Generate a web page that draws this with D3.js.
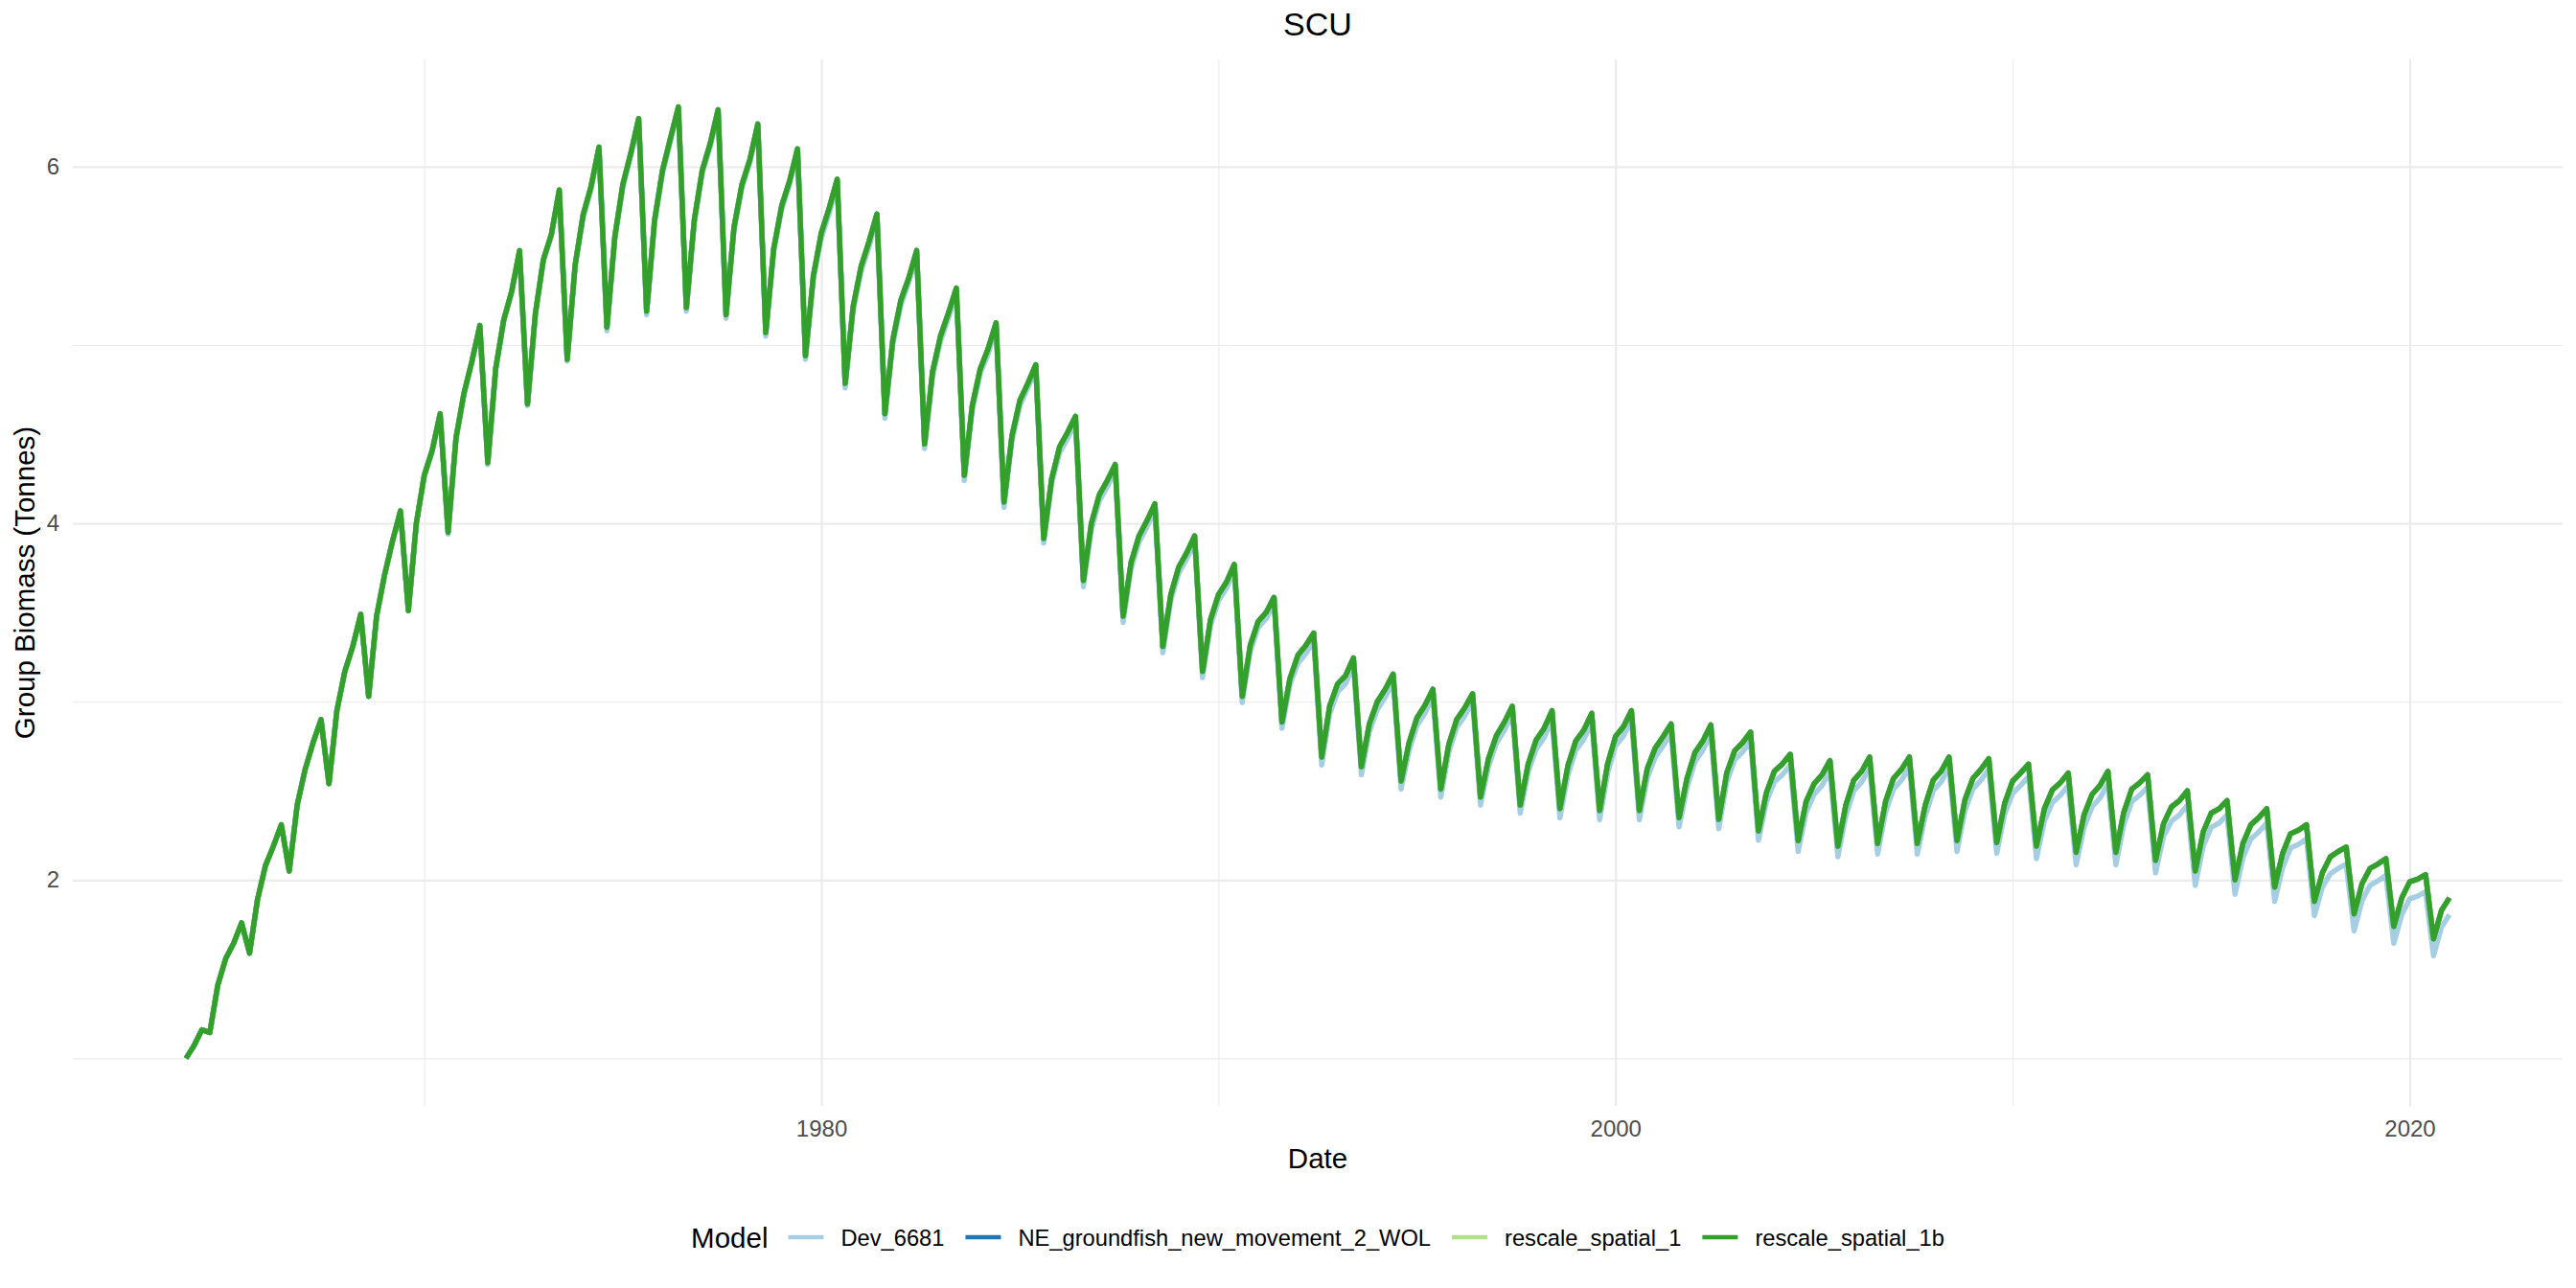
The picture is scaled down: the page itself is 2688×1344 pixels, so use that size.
<!DOCTYPE html>
<html>
<head>
<meta charset="utf-8">
<script src="https://cdn.jsdelivr.net/npm/d3@7"></script>
<style>
  body { margin: 0; background: #ffffff; }
  text { font-family: "Liberation Sans", Arial, Helvetica, sans-serif; }
</style>
</head>
<body>
<svg id="chart" width="2688" height="1344"></svg>
<script>
// ---------------- data ----------------
const chartTitle = "SCU";
const xAxisTitle = "Date";
const yAxisTitle = "Group Biomass (Tonnes)";
const legendTitle = "Model";
const models = ["Dev_6681", "NE_groundfish_new_movement_2_WOL", "rescale_spatial_1", "rescale_spatial_1b"];
const modelColors = ["#A6CEE3", "#1F78B4", "#B2DF8A", "#33A02C"];
const startYear = 1964;      // first output date
const stepsPerYear = 5;      // 73-day output steps
const xTickValues = [1980, 2000, 2020];
const xMinorValues = [1970, 1990, 2010];
const yTickValues = [2, 4, 6];
const yMinorValues = [1, 3, 5];

const biomass_rescale_spatial_1b = [
1.00,1.07,1.16,1.145,1.41,1.56,1.645,1.76,1.59,1.89,
2.08,2.19,2.31,2.05,2.42,2.62,2.77,2.90,2.54,2.95,
3.17,3.31,3.49,3.03,3.48,3.71,3.90,4.07,3.51,4.00,
4.27,4.41,4.615,3.95,4.48,4.73,4.91,5.11,4.34,4.87,
5.14,5.30,5.53,4.67,5.18,5.48,5.62,5.87,4.92,5.45,
5.73,5.89,6.11,5.10,5.61,5.90,6.075,6.27,5.19,5.70,
5.98,6.16,6.335,5.21,5.70,5.98,6.13,6.32,5.17,5.66,
5.90,6.04,6.24,5.07,5.54,5.78,5.92,6.10,4.94,5.39,
5.63,5.77,5.93,4.785,5.215,5.44,5.58,5.735,4.615,5.03,
5.25,5.375,5.53,4.445,4.85,5.05,5.18,5.32,4.27,4.66,
4.865,4.98,5.125,4.12,4.49,4.69,4.785,4.89,3.915,4.25,
4.43,4.51,4.60,3.68,4.00,4.16,4.24,4.33,3.48,3.78,
3.93,4.015,4.11,3.31,3.60,3.755,3.835,3.93,3.17,3.46,
3.60,3.67,3.77,3.03,3.315,3.45,3.50,3.585,2.885,3.13,
3.26,3.315,3.385,2.69,2.975,3.10,3.145,3.245,2.635,2.875,
3.00,3.07,3.155,2.555,2.77,2.91,2.98,3.07,2.51,2.76,
2.90,2.965,3.045,2.465,2.68,2.81,2.885,2.975,2.42,2.65,
2.785,2.85,2.95,2.40,2.64,2.78,2.84,2.935,2.39,2.65,
2.805,2.86,2.95,2.39,2.625,2.74,2.805,2.875,2.35,2.57,
2.715,2.78,2.87,2.34,2.60,2.725,2.77,2.83,2.275,2.49,
2.61,2.65,2.705,2.22,2.44,2.54,2.59,2.67,2.19,2.42,
2.56,2.61,2.69,2.205,2.44,2.57,2.62,2.69,2.205,2.42,
2.56,2.61,2.69,2.22,2.45,2.57,2.62,2.68,2.21,2.43,
2.555,2.60,2.65,2.19,2.40,2.505,2.545,2.60,2.155,2.365,
2.48,2.53,2.61,2.155,2.38,2.51,2.545,2.59,2.11,2.315,
2.41,2.445,2.50,2.05,2.27,2.375,2.40,2.445,2.00,2.205,
2.31,2.35,2.40,1.96,2.15,2.26,2.28,2.31,1.88,2.04,
2.13,2.16,2.185,1.81,1.98,2.065,2.09,2.12,1.74,1.90,
1.99,2.005,2.03,1.67,1.83,1.90
];

const biomass_Dev_6681 = [
1.00,1.07,1.16,1.145,1.41,1.56,1.645,1.76,1.59,1.89,
2.08,2.19,2.31,2.05,2.42,2.62,2.77,2.90,2.54,2.95,
3.17,3.31,3.49,3.03,3.48,3.71,3.90,4.07,3.51,4.00,
4.26,4.40,4.605,3.94,4.47,4.72,4.90,5.10,4.33,4.86,
5.13,5.29,5.52,4.66,5.17,5.47,5.61,5.86,4.91,5.44,
5.71,5.87,6.09,5.08,5.59,5.88,6.06,6.25,5.17,5.68,
5.96,6.14,6.32,5.19,5.68,5.96,6.11,6.30,5.15,5.64,
5.88,6.02,6.22,5.05,5.52,5.76,5.90,6.08,4.92,5.37,
5.60,5.74,5.90,4.76,5.19,5.41,5.55,5.71,4.59,5.00,
5.22,5.35,5.50,4.42,4.82,5.02,5.15,5.29,4.24,4.63,
4.84,4.95,5.10,4.09,4.46,4.66,4.76,4.86,3.89,4.22,
4.395,4.475,4.565,3.645,3.965,4.125,4.205,4.295,3.445,3.745,
3.895,3.98,4.075,3.275,3.565,3.72,3.80,3.895,3.135,3.425,
3.565,3.635,3.735,2.995,3.28,3.415,3.465,3.55,2.85,3.095,
3.215,3.27,3.34,2.645,2.93,3.055,3.10,3.20,2.59,2.83,
2.955,3.025,3.11,2.51,2.725,2.865,2.935,3.025,2.465,2.715,
2.855,2.92,3.00,2.42,2.635,2.765,2.84,2.93,2.375,2.605,
2.733,2.798,2.898,2.348,2.588,2.728,2.788,2.883,2.338,2.598,
2.753,2.808,2.898,2.338,2.573,2.688,2.753,2.823,2.298,2.518,
2.663,2.728,2.818,2.288,2.548,2.673,2.718,2.778,2.223,2.438,
2.55,2.59,2.645,2.16,2.38,2.48,2.53,2.61,2.13,2.36,
2.50,2.55,2.63,2.145,2.38,2.51,2.56,2.63,2.145,2.36,
2.50,2.55,2.63,2.16,2.39,2.51,2.56,2.62,2.15,2.37,
2.485,2.53,2.58,2.12,2.33,2.435,2.475,2.53,2.085,2.295,
2.41,2.46,2.54,2.085,2.31,2.44,2.475,2.52,2.04,2.245,
2.33,2.365,2.42,1.97,2.19,2.295,2.32,2.365,1.92,2.125,
2.23,2.27,2.32,1.88,2.07,2.18,2.20,2.23,1.80,1.96,
2.035,2.065,2.09,1.715,1.885,1.97,1.995,2.025,1.645,1.805,
1.895,1.91,1.935,1.575,1.735,1.805
];

// These two runs coincide with rescale_spatial_1b (fully hidden beneath it in the picture)
const biomass_NE_groundfish_new_movement_2_WOL = biomass_rescale_spatial_1b;
const biomass_rescale_spatial_1 = biomass_rescale_spatial_1b;

const seriesValues = [biomass_Dev_6681, biomass_NE_groundfish_new_movement_2_WOL,
                      biomass_rescale_spatial_1, biomass_rescale_spatial_1b];

// ---------------- layout ----------------
const W = 2688, H = 1344;
const panel = { left: 76, right: 2674, top: 62, bottom: 1154 };
const svg = d3.select("#chart");
svg.append("rect").attr("width", W).attr("height", H).attr("fill", "#ffffff");

const series = models.map((m, i) => ({
  name: m,
  color: modelColors[i],
  points: seriesValues[i].map((v, k) => ({ t: startYear + k / stepsPerYear, v: v }))
}));

const allPts = series.flatMap(s => s.points);
const tExt = d3.extent(allPts, d => d.t);
const vExt = d3.extent(allPts, d => d.v);
const tPad = (tExt[1] - tExt[0]) * 0.05;
const vPad = (vExt[1] - vExt[0]) * 0.05;

const x = d3.scaleLinear().domain([tExt[0] - tPad, tExt[1] + tPad]).range([panel.left, panel.right]);
const y = d3.scaleLinear().domain([vExt[0] - vPad, vExt[1] + vPad]).range([panel.bottom, panel.top]);

const plotW = panel.right - panel.left, plotH = panel.bottom - panel.top;
const gridColor = "#EBEBEB";

// minor grid
const gMinX = svg.append("g").attr("transform", `translate(0,${panel.bottom})`)
  .call(d3.axisBottom(x).tickValues(xMinorValues).tickSize(-plotH).tickFormat(""));
const gMinY = svg.append("g").attr("transform", `translate(${panel.left},0)`)
  .call(d3.axisLeft(y).tickValues(yMinorValues).tickSize(-plotW).tickFormat(""));
[gMinX, gMinY].forEach(g => {
  g.select(".domain").remove();
  g.selectAll("line").attr("stroke", gridColor).attr("stroke-width", 1.1);
});

// major grid
const gMajX = svg.append("g").attr("transform", `translate(0,${panel.bottom})`)
  .call(d3.axisBottom(x).tickValues(xTickValues).tickSize(-plotH).tickFormat(""));
const gMajY = svg.append("g").attr("transform", `translate(${panel.left},0)`)
  .call(d3.axisLeft(y).tickValues(yTickValues).tickSize(-plotW).tickFormat(""));
[gMajX, gMajY].forEach(g => {
  g.select(".domain").remove();
  g.selectAll("line").attr("stroke", gridColor).attr("stroke-width", 2.2);
});

// tick labels
const axX = svg.append("g").attr("transform", `translate(0,${panel.bottom})`)
  .call(d3.axisBottom(x).tickValues(xTickValues).tickSize(0).tickPadding(15).tickFormat(d3.format("d")));
const axY = svg.append("g").attr("transform", `translate(${panel.left},0)`)
  .call(d3.axisLeft(y).tickValues(yTickValues).tickSize(0).tickPadding(14).tickFormat(d3.format("d")));
[axX, axY].forEach(g => {
  g.select(".domain").remove();
  g.selectAll("text").attr("fill", "#4D4D4D").style("font-size", "24px")
    .style("font-family", '"Liberation Sans", Arial, sans-serif');
});

// lines
const line = d3.line().x(d => x(d.t)).y(d => y(d.v));
svg.append("g").selectAll("path").data(series).join("path")
  .attr("d", d => line(d.points))
  .attr("fill", "none")
  .attr("stroke", d => d.color)
  .attr("stroke-width", 5.5)
  .attr("stroke-linejoin", "round")
  .attr("stroke-linecap", "butt");

// titles
const midX = (panel.left + panel.right) / 2;
svg.append("text").text(chartTitle).attr("x", midX).attr("y", 37)
  .attr("text-anchor", "middle").style("font-size", "34px").attr("fill", "#000");
svg.append("text").text(xAxisTitle).attr("x", midX).attr("y", 1219)
  .attr("text-anchor", "middle").style("font-size", "29.5px").attr("fill", "#000");
svg.append("text").text(yAxisTitle)
  .attr("transform", `translate(36,${(panel.top + panel.bottom) / 2}) rotate(-90)`)
  .attr("text-anchor", "middle").style("font-size", "29.5px").attr("fill", "#000");

// legend
const legY = 1291;
const leg = svg.append("g");
const lt = leg.append("text").text(legendTitle).attr("y", 1301.5).style("font-size", "29.5px").attr("fill", "#000");
const keyLen = 37, gapTitle = 21, gapKeyText = 18, gapItem = 22;
const items = series.map(s => {
  const k = leg.append("line").attr("y1", legY).attr("y2", legY)
    .attr("stroke", s.color).attr("stroke-width", 4.5);
  const t = leg.append("text").text(s.name).attr("y", 1300).style("font-size", "23.7px").attr("fill", "#000");
  return { k, t };
});
let total = lt.node().getComputedTextLength() + gapTitle;
items.forEach((it, i) => {
  total += keyLen + gapKeyText + it.t.node().getComputedTextLength() + (i < items.length - 1 ? gapItem : 0);
});
let cx = midX - total / 2;
lt.attr("x", cx);
cx += lt.node().getComputedTextLength() + gapTitle;
items.forEach(it => {
  it.k.attr("x1", cx).attr("x2", cx + keyLen);
  cx += keyLen + gapKeyText;
  it.t.attr("x", cx);
  cx += it.t.node().getComputedTextLength() + gapItem;
});
</script>
</body>
</html>
